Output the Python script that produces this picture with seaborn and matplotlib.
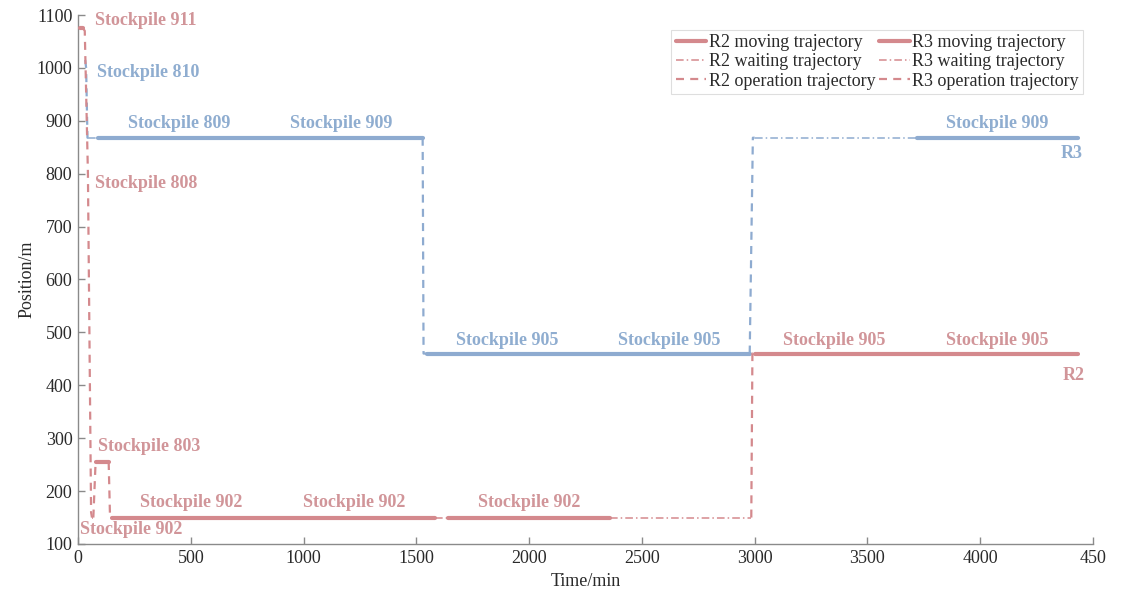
import numpy as np
import pandas as pd
import matplotlib
matplotlib.use("Agg")
import matplotlib.pyplot as plt
from matplotlib.lines import Line2D
import seaborn as sns

# ---------------- data ----------------
# each segment: list of times, list of positions
r2_moving_t = [[8, 22], [80, 136], [150, 1582], [1640, 2358], [3000, 4433]]
r2_moving_y = [[1075, 1075], [255, 255], [150, 150], [150, 150], [460, 460]]
r2_waiting_t = [[62, 68], [1582, 1640], [2358, 2985]]
r2_waiting_y = [[150, 150], [150, 150], [150, 150]]
r2_operation_t = [[22, 30, 44, 58, 62], [68, 78, 80], [136, 142, 150], [2985, 2990, 3000]]
r2_operation_y = [[1075, 1070, 800, 160, 150], [150, 255, 255], [255, 150, 150], [150, 460, 460]]

r3_moving_t = [[89, 1528], [1547, 2978], [3718, 4433]]
r3_moving_y = [[868, 868], [460, 460], [868, 868]]
r3_waiting_t = [[45, 89], [3000, 3718]]
r3_waiting_y = [[868, 868], [868, 868]]
r3_operation_t = [[32, 36, 42, 45], [1528, 1532, 1547], [2978, 2992, 3000]]
r3_operation_y = [[1015, 1000, 868, 868], [868, 460, 460], [460, 868, 868]]

labels_text = ["Stockpile 911", "Stockpile 810", "Stockpile 809", "Stockpile 909",
               "Stockpile 808", "Stockpile 905", "Stockpile 905", "Stockpile 905",
               "Stockpile 905", "Stockpile 909", "Stockpile 803", "Stockpile 902",
               "Stockpile 902", "Stockpile 902", "Stockpile 902"]
labels_t = [75, 84, 222, 940, 75, 1675, 2394, 3125, 3848, 3848, 89, 275, 997, 1773, 9]
labels_y = [1090, 992, 894, 894, 782, 484, 484, 484, 484, 894, 285, 179, 179, 179, 128]
labels_robot = ["R2", "R3", "R3", "R3", "R2", "R3", "R3", "R2", "R2", "R3", "R2",
                "R2", "R2", "R2", "R2"]

x_ticks = [0, 500, 1000, 1500, 2000, 2500, 3000, 3500, 4000, 4500]
x_tick_labels = ["0", "500", "1000", "1500", "2000", "2500", "3000", "3500", "4000", "450"]
y_ticks = [100, 200, 300, 400, 500, 600, 700, 800, 900, 1000, 1100]

# ---------------- styling ----------------
sns.set_style("ticks")
plt.rcParams["font.family"] = ["Liberation Serif", "DejaVu Serif"]
plt.rcParams["xtick.direction"] = "in"
plt.rcParams["ytick.direction"] = "in"

PINK = "#D4898D"
BLUE = "#8EABD0"
PINK_TXT = "#D19599"
BLUE_TXT = "#8FADD0"
SPINE = "#8a8a8a"

styles = {
    "moving": dict(lw=3.0, ls="-"),
    "waiting": dict(lw=1.1, ls=(0, (5, 2, 1, 2))),
    "operation": dict(lw=1.6, ls=(0, (3.6, 2.8))),
}

fig = plt.figure(figsize=(11.27, 5.97), dpi=100)
ax = fig.add_axes([78 / 1127, 1 - 544 / 597, (1093 - 78) / 1127, (544 - 15) / 597])

# build long table
rows = []
seg_id = 0
for robot, groups in [
    ("R3", [("moving", r3_moving_t, r3_moving_y), ("waiting", r3_waiting_t, r3_waiting_y),
            ("operation", r3_operation_t, r3_operation_y)]),
    ("R2", [("moving", r2_moving_t, r2_moving_y), ("waiting", r2_waiting_t, r2_waiting_y),
            ("operation", r2_operation_t, r2_operation_y)]),
]:
    for kind, ts, ys in groups:
        for t, y in zip(ts, ys):
            for order, (ti, yi) in enumerate(zip(t, y)):
                rows.append(dict(time=ti, position=yi, robot=robot, kind=kind, seg=seg_id, order=order))
            seg_id += 1
df = pd.DataFrame(rows)

for seg, sub in df.groupby("seg", sort=True):
    robot = sub["robot"].iloc[0]
    kind = sub["kind"].iloc[0]
    st = styles[kind]
    sns.lineplot(data=sub.sort_values("order"), x="time", y="position", sort=False,
                 estimator=None, ax=ax, color=PINK if robot == "R2" else BLUE,
                 linewidth=st["lw"], linestyle=st["ls"], solid_capstyle="round",
                 dash_capstyle="butt", zorder=3 if robot == "R2" else 2, legend=False)

for txt, t, y, rb in zip(labels_text, labels_t, labels_y, labels_robot):
    ax.text(t, y, txt, ha="left", va="center", fontsize=13, fontweight="bold",
            color=PINK_TXT if rb == "R2" else BLUE_TXT)
ax.text(4455, 839, "R3", ha="right", va="center", fontsize=13, fontweight="bold", color=BLUE_TXT)
ax.text(4463, 419, "R2", ha="right", va="center", fontsize=13, fontweight="bold", color=PINK_TXT)

ax.set_xlim(0, 4500)
ax.set_ylim(100, 1100)
ax.set_xticks(x_ticks)
ax.set_xticklabels(x_tick_labels)
ax.set_yticks(y_ticks)
ax.tick_params(axis="both", labelsize=13, length=5, width=1, color=SPINE, labelcolor="#2a2a2a", pad=4)
for s in ["top", "right"]:
    ax.spines[s].set_visible(False)
for s in ["left", "bottom"]:
    ax.spines[s].set_color(SPINE)
    ax.spines[s].set_linewidth(1.0)
ax.set_xlabel("Time/min", fontsize=13, color="#2a2a2a", labelpad=5)
ax.set_ylabel("Position/m", fontsize=13, color="#2a2a2a", labelpad=1)

handles = []
names = []
for robot in ["R2", "R3"]:
    for kind in ["moving", "waiting", "operation"]:
        st = styles[kind]
        handles.append(Line2D([], [], color=PINK, lw=st["lw"], ls=st["ls"]))
        names.append(f"{robot} {kind} trajectory")
leg = ax.legend(handles, names, ncol=2, loc="upper right", bbox_to_anchor=(0.99, 0.972),
                fontsize=13, frameon=True, fancybox=False, edgecolor="#d6d6d6",
                handlelength=1.7, handletextpad=0.12, columnspacing=0.2,
                labelspacing=0.12, borderpad=0.25, borderaxespad=0.0)
leg.get_frame().set_linewidth(0.8)
for t in leg.get_texts():
    t.set_color("#2a2a2a")

fig.savefig("out.png", dpi=100)
